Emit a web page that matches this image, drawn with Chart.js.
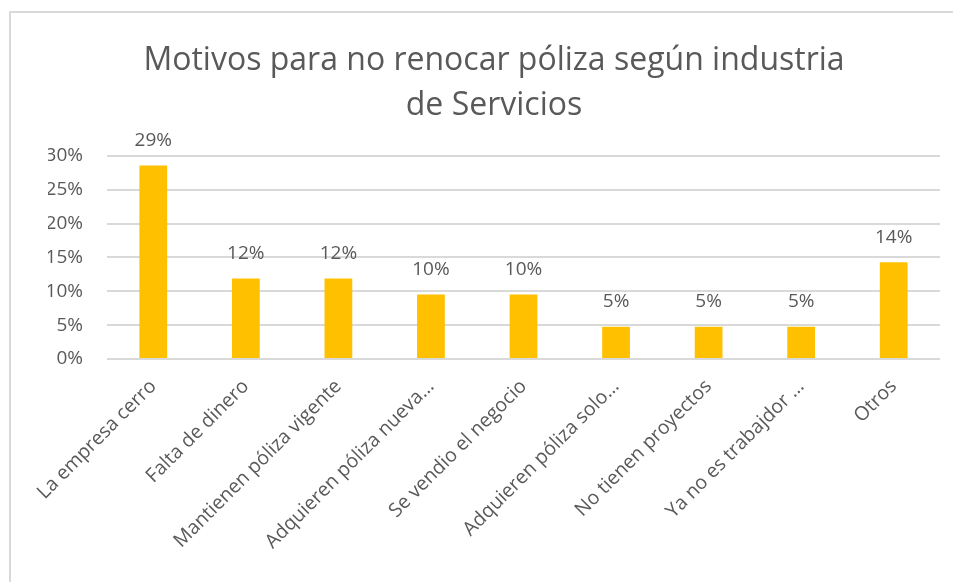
<!DOCTYPE html>
<html>
<head>
<meta charset="utf-8">
<script src="https://cdn.jsdelivr.net/npm/chart.js@4"></script>
<style>
  html, body { margin: 0; padding: 0; background: #fff; }
  #wrap { position: relative; width: 953px; height: 582px; }
  #frame { position: absolute; left: 9px; top: 11px; right: 0; bottom: -5px;
           border-left: 2px solid #d9d9d9; border-top: 2px solid #d9d9d9; }
  canvas { position: absolute; left: 0; top: 0; }
</style>
</head>
<body>
<div id="wrap">
  <div id="frame"></div>
  <canvas id="chart" width="953" height="582"></canvas>
</div>
<script>
// Datos del gráfico
const categorias = [
    'La empresa cerro',
    'Falta de dinero',
    'Mantienen póliza vigente',
    'Adquieren póliza nueva…',
    'Se vendio el negocio',
    'Adquieren póliza solo…',
    'No tienen proyectos',
    'Ya no es trabajdor …',
    'Otros'
];
const porcentajes = [28.57, 11.9, 11.9, 9.52, 9.52, 4.76, 4.76, 4.76, 14.29];
const ticksY = [0, 5, 10, 15, 20, 25, 30];

const fuente = '"Open Sans", "DejaVu Sans", sans-serif';
const gris = '#595959';

// Etiquetas de valor sobre cada barra
const etiquetasValor = {
    id: 'etiquetasValor',
    afterDatasetsDraw(chart) {
        const ctx = chart.ctx;
        const meta = chart.getDatasetMeta(0);
        ctx.save();
        ctx.font = '19px ' + fuente;
        ctx.fillStyle = gris;
        ctx.textAlign = 'center';
        ctx.textBaseline = 'middle';
        meta.data.forEach(function(bar, i) {
            ctx.fillText(Math.round(porcentajes[i]) + '%', bar.x, bar.y - 25);
        });
        ctx.restore();
    }
};

const ctx = document.getElementById('chart').getContext('2d');
new Chart(ctx, {
    type: 'bar',
    data: {
        labels: categorias,
        datasets: [{
            data: porcentajes,
            backgroundColor: '#FFC000',
            borderWidth: 0,
            categoryPercentage: 1,
            barPercentage: 0.3
        }]
    },
    options: {
        responsive: false,
        animation: false,
        layout: { padding: { left: 48, right: 13, top: 0, bottom: 0 } },
        plugins: {
            legend: { display: false },
            tooltip: { enabled: false },
            title: {
                display: true,
                text: ['Motivos para no renocar póliza según industria', 'de Servicios'],
                color: gris,
                font: { family: fuente, size: 32, weight: 'normal', lineHeight: 1.42 },
                padding: { top: 38, bottom: 27 }
            }
        },
        scales: {
            y: {
                min: 0,
                max: 30,
                afterFit: function(scale) { scale.width = 59; },
                afterBuildTicks: function(scale) {
                    scale.ticks = ticksY.map(function(v) { return { value: v }; });
                },
                grid: { color: '#d9d9d9', lineWidth: 2, drawTicks: false },
                border: { display: false },
                ticks: {
                    padding: 24,
                    color: gris,
                    font: { family: fuente, size: 19 },
                    callback: function(v) { return v + '%'; }
                }
            },
            x: {
                afterFit: function(scale) { scale.height = 223; },
                grid: { display: false, drawTicks: false },
                border: { display: false },
                ticks: {
                    autoSkip: false,
                    maxRotation: 45,
                    minRotation: 45,
                    padding: 16,
                    color: gris,
                    font: { family: fuente, size: 19.5 }
                }
            }
        }
    },
    plugins: [etiquetasValor]
});
</script>
</body>
</html>
